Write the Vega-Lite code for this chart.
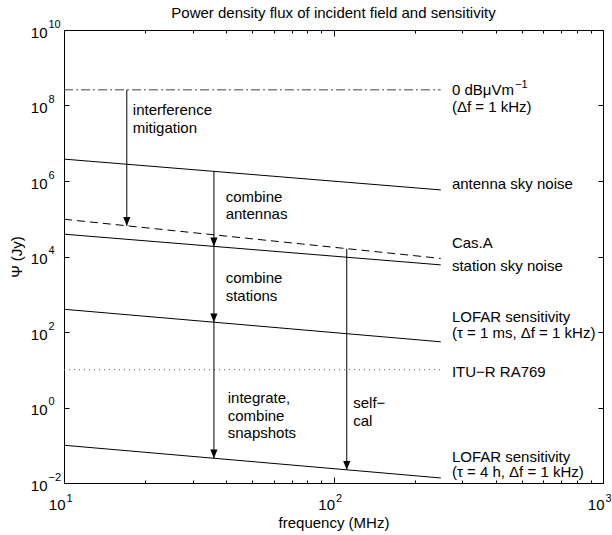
{
  "$schema": "https://vega.github.io/schema/vega-lite/v6.json",
  "width": 539,
  "height": 453,
  "autosize": {"type": "none"},
  "padding": {"left": 64, "top": 30, "right": 9, "bottom": 52},
  "title": {"text": "Power density flux of incident field and sensitivity", "font": "Liberation Sans", "fontSize": 15, "fontWeight": "normal", "color": "black", "anchor": "middle", "offset": -3},
  "config": {
    "view": {"stroke": "black", "strokeWidth": 1},
    "axis": {"grid": false, "domain": false, "tickColor": "black", "tickWidth": 1, "labelColor": "black", "labelFont": "Liberation Sans", "titleFont": "Liberation Sans", "titleColor": "black", "titleFontWeight": "normal", "titleFontSize": 15, "labelFlush": false, "labelOverlap": false, "labelBound": false},
    "text": {"font": "Liberation Sans"}
  },
  "datasets": {
    "curves": [
      {"series": "interf", "x": 10, "y": 2.6e8},
      {"series": "interf", "x": 250, "y": 2.6e8},
      {"series": "antenna", "x": 10, "y": 3.8e6},
      {"series": "antenna", "x": 250, "y": 5.8e5},
      {"series": "casa", "x": 10, "y": 9.7e4},
      {"series": "casa", "x": 250, "y": 8.9e3},
      {"series": "station", "x": 10, "y": 3.9e4},
      {"series": "station", "x": 250, "y": 6.0e3},
      {"series": "lofar1", "x": 10, "y": 400},
      {"series": "lofar1", "x": 250, "y": 55},
      {"series": "itu", "x": 10, "y": 10},
      {"series": "itu", "x": 250, "y": 10},
      {"series": "lofar4", "x": 10, "y": 0.1},
      {"series": "lofar4", "x": 250, "y": 0.0136}
    ],
    "arrows": [
      {"x": 17.1, "y1": 2.6e8, "y2": 6.5e4},
      {"x": 36, "y1": 1.8e6, "y2": 1.85e4},
      {"x": 36, "y1": 1.85e4, "y2": 181},
      {"x": 36, "y1": 181, "y2": 0.045},
      {"x": 112, "y1": 1.6e4, "y2": 0.0224}
    ],
    "labels": [
      {"x": 275, "y": 1.95e8, "label": "0 dBμVm"},
      {"x": 275, "y": 6.86e7, "label": "(Δf = 1 kHz)"},
      {"x": 275, "y": 6.0e5, "label": "antenna sky noise"},
      {"x": 275, "y": 1.65e4, "label": "Cas.A"},
      {"x": 275, "y": 4.2e3, "label": "station sky noise"},
      {"x": 275, "y": 184, "label": "LOFAR sensitivity"},
      {"x": 275, "y": 69, "label": "(τ = 1 ms, Δf = 1 kHz)"},
      {"x": 275, "y": 6.5, "label": "ITU−R RA769"},
      {"x": 275, "y": 0.036, "label": "LOFAR sensitivity"},
      {"x": 275, "y": 0.014, "label": "(τ = 4 h, Δf = 1 kHz)"},
      {"x": 18.0, "y": 5.5e7, "label": "interference"},
      {"x": 18.0, "y": 1.9e7, "label": "mitigation"},
      {"x": 39.8, "y": 2.83e5, "label": "combine"},
      {"x": 39.8, "y": 9.7e4, "label": "antennas"},
      {"x": 39.8, "y": 2.02e3, "label": "combine"},
      {"x": 39.8, "y": 675, "label": "stations"},
      {"x": 40.5, "y": 1.29, "label": "integrate,"},
      {"x": 40.5, "y": 0.447, "label": "combine"},
      {"x": 40.5, "y": 0.153, "label": "snapshots"},
      {"x": 118.4, "y": 0.953, "label": "self−"},
      {"x": 118.4, "y": 0.324, "label": "cal"}
    ],
    "sups": [
      {"x": 472, "y": 2.95e8, "label": "−1"}
    ]
  },
  "layer": [
    {
      "data": {"name": "curves"},
      "transform": [{"filter": "indexof(['antenna','station','lofar1','lofar4'], datum.series) >= 0"}],
      "mark": {"type": "line", "color": "black", "strokeWidth": 1},
      "encoding": {
        "x": {"field": "x", "type": "quantitative", "scale": {"type": "log", "domain": [10, 1000], "nice": false},
          "axis": {"orient": "bottom", "values": [10, 100, 1000], "labelExpr": "'10'", "tickSize": -6, "labelFontSize": 15, "labelAlign": "right", "labelBaseline": "top", "labelOffset": 1, "labelPadding": 20, "title": "frequency (MHz)", "titlePadding": 3}},
        "y": {"field": "y", "type": "quantitative", "scale": {"type": "log", "domain": [0.01, 1e10], "nice": false},
          "axis": {"orient": "left", "values": [0.01, 1, 100, 10000, 1000000, 100000000, 10000000000], "labelExpr": "'10'", "tickSize": -5, "labelFontSize": 15, "labelAlign": "right", "labelBaseline": "middle", "labelOffset": 2, "labelPadding": 22, "title": "Ψ (Jy)", "titlePadding": 6}},
        "detail": {"field": "series"}
      }
    },
    {
      "data": {"name": "curves"},
      "transform": [{"filter": "datum.series === 'casa'"}],
      "mark": {"type": "line", "color": "black", "strokeWidth": 1, "strokeDash": [8, 5]},
      "encoding": {
        "x": {"field": "x", "type": "quantitative", "scale": {"type": "log", "domain": [10, 1000], "nice": false},
          "axis": {"orient": "bottom", "values": [10, 100, 1000], "labelExpr": "format(round(log(datum.value)/LN10),'d')", "ticks": false, "tickSize": 0, "labelFontSize": 11, "labelAlign": "left", "labelBaseline": "top", "labelOffset": 2, "labelPadding": 9, "title": null}},
        "y": {"field": "y", "type": "quantitative", "scale": {"type": "log", "domain": [0.01, 1e10], "nice": false},
          "axis": {"orient": "left", "values": [0.01, 1, 100, 10000, 1000000, 100000000, 10000000000], "labelExpr": "format(round(log(datum.value)/LN10),'d')", "ticks": false, "tickSize": 0, "labelFontSize": 11, "labelAlign": "left", "labelBaseline": "middle", "labelOffset": -6, "labelPadding": 16, "title": null}}
      }
    },
    {
      "data": {"name": "curves"},
      "transform": [{"filter": "datum.series === 'interf'"}],
      "mark": {"type": "line", "color": "#444", "strokeWidth": 1, "strokeDash": [9, 3, 2, 3]},
      "encoding": {
        "x": {"field": "x", "type": "quantitative", "scale": {"type": "log", "domain": [10, 1000], "nice": false},
          "axis": {"orient": "bottom", "values": [20, 30, 40, 50, 60, 70, 80, 90, 200, 300, 400, 500, 600, 700, 800, 900], "labels": false, "tickSize": -3, "title": null}},
        "y": {"field": "y", "type": "quantitative", "scale": {"type": "log", "domain": [0.01, 1e10], "nice": false},
          "axis": {"orient": "right", "values": [0.01, 1, 100, 10000, 1000000, 100000000, 10000000000], "labels": false, "tickSize": -5, "title": null}}
      }
    },
    {
      "data": {"name": "curves"},
      "transform": [{"filter": "datum.series === 'itu'"}],
      "mark": {"type": "line", "color": "#555", "strokeWidth": 1, "strokeDash": [1, 4]},
      "encoding": {
        "x": {"field": "x", "type": "quantitative", "scale": {"type": "log", "domain": [10, 1000], "nice": false},
          "axis": {"orient": "top", "values": [10, 100, 1000], "labels": false, "tickSize": -6, "title": null}},
        "y": {"field": "y", "type": "quantitative", "scale": {"type": "log", "domain": [0.01, 1e10], "nice": false}, "axis": null}
      }
    },
    {
      "data": {"name": "arrows"},
      "mark": {"type": "rule", "color": "black", "strokeWidth": 1},
      "encoding": {
        "x": {"field": "x", "type": "quantitative", "scale": {"type": "log", "domain": [10, 1000], "nice": false},
          "axis": {"orient": "top", "values": [20, 30, 40, 50, 60, 70, 80, 90, 200, 300, 400, 500, 600, 700, 800, 900], "labels": false, "tickSize": -3, "title": null}},
        "y": {"field": "y1", "type": "quantitative", "scale": {"type": "log", "domain": [0.01, 1e10], "nice": false}, "axis": null},
        "y2": {"field": "y2"}
      }
    },
    {
      "data": {"name": "arrows"},
      "mark": {"type": "point", "shape": "M-0.9,-2.2L0.9,-2.2L0,0Z", "filled": true, "color": "black", "opacity": 1, "size": 64, "strokeWidth": 0},
      "encoding": {
        "x": {"field": "x", "type": "quantitative", "scale": {"type": "log", "domain": [10, 1000], "nice": false}, "axis": null},
        "y": {"field": "y2", "type": "quantitative", "scale": {"type": "log", "domain": [0.01, 1e10], "nice": false}, "axis": null}
      }
    },
    {
      "data": {"name": "labels"},
      "mark": {"type": "text", "align": "left", "baseline": "alphabetic", "fontSize": 15, "color": "black", "font": "Liberation Sans"},
      "encoding": {
        "x": {"field": "x", "type": "quantitative", "scale": {"type": "log", "domain": [10, 1000], "nice": false}, "axis": null},
        "y": {"field": "y", "type": "quantitative", "scale": {"type": "log", "domain": [0.01, 1e10], "nice": false}, "axis": null},
        "text": {"field": "label"}
      }
    },
    {
      "data": {"name": "sups"},
      "mark": {"type": "text", "align": "left", "baseline": "alphabetic", "fontSize": 11, "color": "black", "font": "Liberation Sans"},
      "encoding": {
        "x": {"field": "x", "type": "quantitative", "scale": {"type": "log", "domain": [10, 1000], "nice": false}, "axis": null},
        "y": {"field": "y", "type": "quantitative", "scale": {"type": "log", "domain": [0.01, 1e10], "nice": false}, "axis": null},
        "text": {"field": "label"}
      }
    }
  ],
  "resolve": {"axis": {"x": "independent", "y": "independent"}}
}
